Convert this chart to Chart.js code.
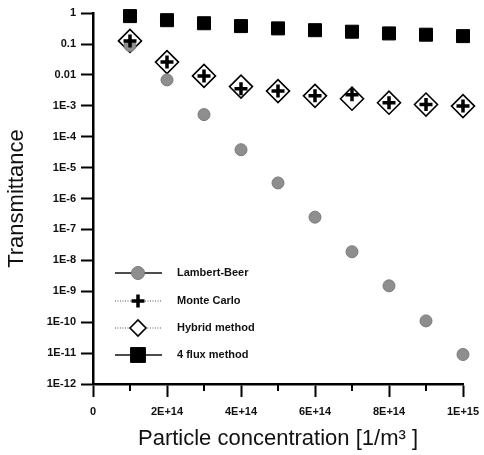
<!DOCTYPE html>
<html>
<head>
<meta charset="utf-8">
<script src="https://cdn.jsdelivr.net/npm/chart.js@4/dist/chart.umd.min.js"></script>
<style>
  html, body { margin: 0; padding: 0; background: #fff; }
  #wrap { width: 484px; height: 455px; position: relative; }
</style>
</head>
<body>
<div id="wrap"><canvas id="chart"></canvas></div>
<script>
// Données
const concentrations = [1e14, 2e14, 3e14, 4e14, 5e14, 6e14, 7e14, 8e14, 9e14, 1e15];
const lambertBeer = [0.09, 0.0069, 5.2e-4, 3.8e-5, 3.2e-6, 2.5e-7, 1.9e-8, 1.5e-9, 1.1e-10, 9e-12];
const monteCarlo = [0.125, 0.026, 0.0093, 0.0036, 0.003, 0.0021, 0.0023, 0.00126, 0.0011, 0.00098];
const hybrid = [0.126, 0.026, 0.0093, 0.0042, 0.003, 0.0021, 0.0017, 0.00126, 0.0011, 0.00098];
const fourFlux = [0.8, 0.59, 0.47, 0.38, 0.32, 0.28, 0.25, 0.22, 0.2, 0.18];

const seriesNames = ['Lambert-Beer', 'Monte Carlo', 'Hybrid method', '4 flux method'];

const yTickValues = [1, 0.1, 0.01, 1e-3, 1e-4, 1e-5, 1e-6, 1e-7, 1e-8, 1e-9, 1e-10, 1e-11, 1e-12];
const yTickLabels = ['1', '0.1', '0.01', '1E-3', '1E-4', '1E-5', '1E-6', '1E-7', '1E-8', '1E-9', '1E-10', '1E-11', '1E-12'];
const xTickValues = [0, 1e14, 2e14, 3e14, 4e14, 5e14, 6e14, 7e14, 8e14, 9e14, 1e15];
const xTickLabels = ['0', '', '2E+14', '', '4E+14', '', '6E+14', '', '8E+14', '', '1E+15'];

const toPoints = vals => vals.map((v, i) => ({ x: concentrations[i], y: v }));
const fontFamily = "'Liberation Sans', Arial, sans-serif";
const tickFont = { family: fontFamily, size: 11, weight: 'bold' };

// Légende dessinée dans la zone du graphique (en bas à gauche)
const legendInside = {
  id: 'legendInside',
  afterDatasetsDraw(chart) {
    const ctx = chart.ctx;
    const area = chart.chartArea;
    const rowsFromBottom = [111, 83, 56, 29];
    const dashed = [false, true, true, false];
    const markerRadius = [6.5, 6.5, 8, 10.5];
    ctx.save();
    chart.data.datasets.forEach((ds, i) => {
      const y = area.bottom - rowsFromBottom[i];
      const x0 = area.left + 22, x1 = area.left + 69, xm = area.left + 45;
      ctx.beginPath();
      ctx.lineWidth = dashed[i] ? 1 : 1.3;
      ctx.strokeStyle = dashed[i] ? '#555' : '#111';
      ctx.setLineDash(dashed[i] ? [1, 1.5] : []);
      ctx.moveTo(x0, y);
      ctx.lineTo(x1, y);
      ctx.stroke();
      ctx.setLineDash([]);
      ctx.fillStyle = ds.backgroundColor;
      ctx.strokeStyle = ds.borderColor;
      ctx.lineWidth = ds.borderWidth;
      Chart.helpers.drawPoint(ctx, {
        pointStyle: ds.pointStyle,
        radius: markerRadius[i],
        borderWidth: ds.borderWidth,
        rotation: 0
      }, xm, y);
      ctx.fillStyle = '#111';
      ctx.font = 'bold 11px ' + fontFamily;
      ctx.textBaseline = 'middle';
      ctx.textAlign = 'left';
      ctx.fillText(seriesNames[i], area.left + 84, y);
    });
    // petites graduations intermédiaires de l'axe x
    const xs = chart.scales.x;
    ctx.strokeStyle = '#000';
    ctx.lineWidth = 2;
    xs.ticks.forEach((t, i) => {
      if (i % 2 === 1) {
        const px = xs.getPixelForValue(t.value);
        ctx.beginPath();
        ctx.moveTo(px, area.bottom);
        ctx.lineTo(px, area.bottom + 7);
        ctx.stroke();
      }
    });
    ctx.restore();
  }
};

new Chart(document.getElementById('chart').getContext('2d'), {
  type: 'scatter',
  data: {
    datasets: [
      {
        label: seriesNames[0],
        data: toPoints(lambertBeer),
        pointStyle: 'circle',
        pointRadius: 6,
        backgroundColor: '#8e8e8e',
        borderColor: '#7a7a7a',
        borderWidth: 1,
        clip: false,
        order: 3
      },
      {
        label: seriesNames[1],
        data: toPoints(monteCarlo),
        pointStyle: 'cross',
        pointRadius: 6.5,
        backgroundColor: '#000',
        borderColor: '#000',
        borderWidth: 3.5,
        clip: false,
        order: 1
      },
      {
        label: seriesNames[2],
        data: toPoints(hybrid),
        pointStyle: 'rectRot',
        pointRadius: 11.5,
        backgroundColor: '#fff',
        borderColor: '#000',
        borderWidth: 1.6,
        clip: false,
        order: 4
      },
      {
        label: seriesNames[3],
        data: toPoints(fourFlux),
        pointStyle: 'rect',
        pointRadius: 9.2,
        backgroundColor: '#000',
        borderColor: '#000',
        borderWidth: 1,
        clip: false,
        order: 0
      }
    ]
  },
  options: {
    responsive: true,
    maintainAspectRatio: false,
    animation: false,
    layout: { padding: { top: 13, right: 21, left: 0, bottom: 0 } },
    plugins: {
      legend: { display: false },
      tooltip: { enabled: false }
    },
    scales: {
      x: {
        type: 'linear',
        min: 0,
        max: 1e15,
        afterBuildTicks: scale => { scale.ticks = xTickValues.map(v => ({ value: v })); },
        afterFit: scale => { scale.height = 71; scale.paddingRight = 0; scale.paddingLeft = 0; },
        border: { display: true, color: '#000', width: 2.5 },
        grid: {
          drawOnChartArea: false,
          drawTicks: true,
          tickLength: 13,
          tickWidth: 2,
          tickColor: c => (c.index % 2 === 0 ? '#000' : 'rgba(0,0,0,0)')
        },
        ticks: {
          autoSkip: false,
          maxRotation: 0,
          padding: 8,
          color: '#111',
          font: tickFont,
          callback: (v, i) => xTickLabels[i]
        },
        title: {
          display: true,
          text: 'Particle concentration [1/m³ ]',
          color: '#111',
          font: { family: fontFamily, size: 22, lineHeight: 1 },
          padding: { top: 0, bottom: 5 }
        }
      },
      y: {
        type: 'logarithmic',
        min: 1e-12,
        max: 1,
        afterBuildTicks: scale => { scale.ticks = yTickValues.map(v => ({ value: v })); },
        afterFit: scale => { scale.width = 93; },
        border: { display: true, color: '#000', width: 2.5 },
        grid: {
          drawOnChartArea: false,
          drawTicks: true,
          tickLength: 12,
          tickWidth: 2,
          tickColor: '#000'
        },
        ticks: {
          autoSkip: false,
          padding: 5,
          color: '#111',
          font: tickFont,
          callback: (v, i) => yTickLabels[i]
        },
        title: {
          display: true,
          text: 'Transmittance',
          color: '#111',
          font: { family: fontFamily, size: 22, lineHeight: 1 },
          padding: { top: 6, bottom: 0 }
        }
      }
    }
  },
  plugins: [legendInside]
});
</script>
</body>
</html>
